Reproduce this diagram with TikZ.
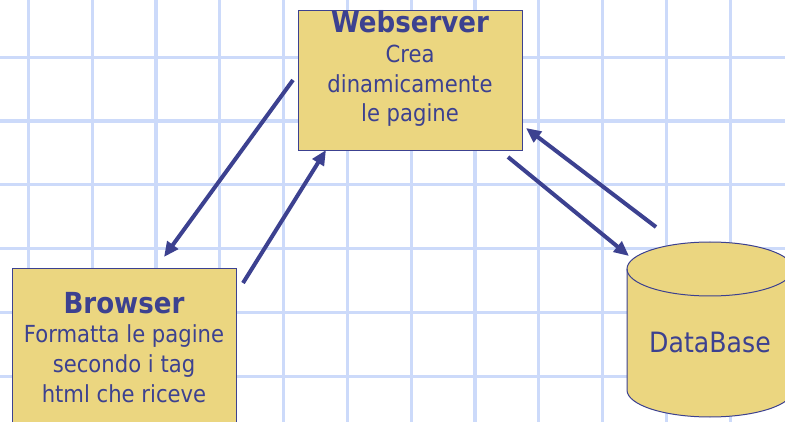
\documentclass[tikz,border=0pt]{standalone}
\usepackage{fontspec}
\setmainfont{DejaVu Sans}[FakeStretch=0.9]
\usetikzlibrary{arrows.meta}
\definecolor{gridblue}{HTML}{CCDAFA}
\definecolor{boxfill}{HTML}{EBD680}
\definecolor{ink}{HTML}{3C4190}
\begin{document}
\begin{tikzpicture}[x=1pt,y=-1pt,
  gridline/.style={gridblue,line width=3.2pt},
  box/.style={draw=ink,line width=1pt,fill=boxfill,inner sep=0pt},
  title/.style={font=\fontsize{29}{29}\selectfont\bfseries,text=ink,anchor=base,inner sep=0pt},
  body/.style={font=\fontsize{23.5}{29}\selectfont,text=ink,anchor=base,inner sep=0pt},
  arr/.style={draw=ink,line width=4pt,-{Triangle[length=15pt,width=13pt]}}]
\useasboundingbox (0,0) rectangle (785,422);
\clip (0,0) rectangle (785,422);
\fill[white] (0,0) rectangle (785,422);
\foreach \i in {0,...,12} \draw[gridline] ({28.3+63.8*\i},0) -- ({28.3+63.8*\i},422);
\foreach \j in {-1,...,6} \draw[gridline] (0,{57.3+63.8*\j}) -- (785,{57.3+63.8*\j});
% Webserver
\node[box,minimum width=224pt,minimum height=140pt] (ws) at (410,81) {};
\node[title] (wst) at (410,33) {Webserver};
\node[body] (ws1) at (410,63) {Crea};
\node[body] (ws2) at (410,92.5) {dinamicamente};
\node[body] (ws3) at (410,121.5) {le pagine};
% Browser
\node[box,minimum width=224pt,minimum height=171pt] (br) at (124,354.5) {};
\node[title] (brt) at (124,313) {Browser};
\node[body] (br1) at (124,342.5) {Formatta le pagine};
\node[body] (br2) at (124,372.5) {secondo i tag};
\node[body] (br3) at (124,402) {html che riceve};
% DataBase cylinder
\path[fill=boxfill] (627,269) -- (627,390) arc[start angle=180,end angle=360,x radius=83pt,y radius=27pt] -- (793,269) -- cycle;
\draw[ink,line width=1pt,fill=boxfill] (710,269) ellipse [x radius=83pt, y radius=27pt];
\draw[ink,line width=1pt] (627,269) -- (627,390) arc[start angle=180,end angle=360,x radius=83pt,y radius=27pt] -- (793,269);
\node[font=\fontsize{28}{28}\selectfont,text=ink,anchor=base,inner sep=0pt] (db) at (710,352.5) {DataBase};
% connectors
\coordinate (a1s) at (293,80);  \coordinate (a1e) at (164,257);
\coordinate (a2s) at (243,283); \coordinate (a2e) at (326,150);
\coordinate (a3s) at (508,157); \coordinate (a3e) at (629,256);
\coordinate (a4s) at (656,227); \coordinate (a4e) at (526,128);
\draw[arr] (a1s) -- (a1e);
\draw[arr] (a2s) -- (a2e);
\draw[arr] (a3s) -- (a3e);
\draw[arr] (a4s) -- (a4e);
\end{tikzpicture}
\end{document}
